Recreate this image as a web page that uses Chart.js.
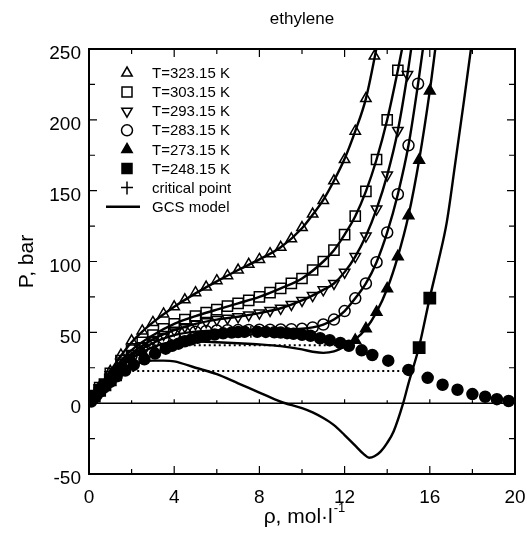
<!DOCTYPE html>
<html>
<head>
<meta charset="utf-8">
<script src="https://cdn.jsdelivr.net/npm/chart.js@4.4.0/dist/chart.umd.min.js"></script>
<style>
  html, body { margin: 0; padding: 0; background: #fff; }
  .chart-container { width: 527px; height: 542px; }
</style>
</head>
<body>
<div class="chart-container"><canvas id="myChart" width="527" height="542"></canvas></div>
<script>
// ----------------------------------------------------------
// experimental points (rho in mol/l, P in bar)
const rho323 = [0.5, 1, 1.5, 2, 2.5, 3, 3.5, 4, 4.5, 5, 5.5, 6, 6.5, 7, 7.5, 8, 8.5, 9, 9.5, 10, 10.5, 11, 11.5, 12, 12.5, 13, 13.4];
const p323 = [11.5, 22.5, 34, 44, 51, 57, 63, 68, 73, 78, 82, 86.5, 90, 94, 98, 101.5, 105.5, 110, 116, 124, 133.5, 143, 157, 172, 192, 215, 245];

const rho303 = [0.5, 1, 1.5, 2, 2.5, 3, 3.5, 4, 4.5, 5, 5.5, 6, 6.5, 7, 7.5, 8, 8.5, 9, 9.5, 10, 10.5, 11, 11.5, 12, 12.5, 13, 13.5, 14, 14.5];
const p303 = [11, 21, 30, 37.5, 43, 48, 52.5, 56, 59, 61.5, 64, 66, 68.5, 70.5, 72.5, 75, 78, 81, 84.5, 88, 94, 100, 108, 119, 132, 149.5, 172, 200, 235];

const rho293 = [0.5, 1, 1.5, 2, 2.5, 3, 3.5, 4, 4.5, 5, 5.5, 6, 6.5, 7, 7.5, 8, 8.5, 9, 9.5, 10, 10.5, 11, 11.5, 12, 12.5, 13, 13.5, 14, 14.5, 14.95];
const p293 = [10.5, 20, 28.5, 35, 40.5, 45, 48.5, 51.5, 54, 56, 57.5, 59, 60, 61, 62.3, 63.6, 65.5, 67, 69.7, 72.5, 76, 80, 84.5, 92.5, 103.5, 118, 137, 161, 192.5, 232];

const rho283 = [0.5, 1, 1.5, 2, 2.5, 3, 3.5, 4, 4.5, 5, 5.5, 6, 6.5, 7, 7.5, 8, 8.5, 9, 9.5, 10, 10.5, 11, 11.5, 12, 12.5, 13, 13.5, 14, 14.5, 15, 15.45];
const p283 = [10, 19, 27, 33.5, 38.5, 42.5, 45.5, 48, 49.5, 50.5, 51, 51.3, 51.5, 51.6, 51.7, 51.8, 51.9, 52, 52.2, 52.5, 53.5, 55.5, 59, 65, 74, 84.5, 99.5, 120.5, 147.5, 182, 225.5];

const rho273 = [0.5, 1, 1.5, 2, 2.5, 12.5, 13, 13.5, 14, 14.5, 15, 15.5, 16];
const p273 = [9.5, 18, 25, 31, 36, 44.4, 52.6, 64.3, 80.8, 103.5, 132.4, 171.6, 220.4];

const rho248 = [0.25, 0.5, 0.75, 1, 1.25, 15.5, 16];
const p248 = [5, 9, 13, 16.5, 20, 39.2, 74.2];

// saturation curve (vapour + liquid branch)
const rhoSat = [0.1, 0.2, 0.35, 0.5, 0.7, 1.0, 1.3, 1.7, 2.1, 2.6, 3.1, 3.6, 3.9, 4.2, 4.5, 4.8, 5.1, 5.5, 5.9, 6.3, 6.7, 7.0, 7.3,
  7.9, 8.3, 8.7, 9.0, 9.3, 9.6, 10.0, 10.4, 10.85, 11.3, 11.8, 12.2, 12.8, 13.3, 14.05, 15.0, 15.9, 16.6, 17.3, 18.0, 18.6, 19.15, 19.7];
const pSat = [1.2, 3, 5.5, 8, 11, 15, 19, 23, 27, 31, 35, 38.5, 40.5, 42, 43.7, 45, 46.2, 47.5, 48.5, 49.3, 49.8, 50.2, 50.4,
  50.4, 50.3, 50, 49.8, 49.4, 49, 48.3, 47.6, 45.8, 44.4, 42.5, 40.5, 37.3, 34, 30, 23.5, 17.9, 13, 9.5, 6.4, 4.5, 2.8, 1.5];

const rhoCrit = [7.6];
const pCrit = [50.4];

// ----------------------------------------------------------
// GCS model curves
const rhoL323 = [0, 0.5, 1, 1.5, 2, 2.5, 3, 4, 5, 6, 7, 8, 9, 10, 10.5, 11, 11.5, 12, 12.5, 13, 13.5, 13.7];
const pL323 = [0, 11.5, 22.5, 33.5, 43, 50.5, 57, 68, 77.5, 86, 94, 101.5, 110, 123.5, 133, 143.5, 157, 172.5, 192, 215, 251, 268];

const rhoL303 = [0, 1, 2, 3, 4, 5, 6, 7, 8, 9, 10, 11, 11.5, 12, 12.5, 13, 13.5, 14, 14.5, 14.8];
const pL303 = [0, 21, 37.5, 48, 56, 61.5, 66, 70.5, 75, 81, 88, 100, 108, 119, 132, 149.5, 172, 200, 235, 258];

const rhoL293 = [0, 1, 2, 3, 4, 5, 6, 7, 8, 9, 10, 11, 11.5, 12, 12.5, 13, 13.5, 14, 14.5, 14.95, 15.2];
const pL293 = [0, 20, 35, 45, 51.5, 56, 59, 61, 63.6, 67, 72.5, 80, 84.5, 92.5, 103.5, 118, 137, 161, 192.5, 232, 258];

const rhoL283 = [0, 1, 2, 3, 4, 5, 6, 7, 8, 9, 10, 10.5, 11, 11.5, 12, 12.5, 13, 13.5, 14, 14.5, 15, 15.45, 15.75];
const pL283 = [0, 19, 33.5, 42.5, 48, 50.5, 51.3, 51.6, 51.8, 52, 52.5, 53.5, 55.5, 59, 65, 74, 84.5, 99.5, 120.5, 147.5, 182, 225.5, 258];

const rhoL273 = [0, 0.5, 1, 1.5, 2, 2.5, 3, 3.5, 4, 5, 6, 7, 8, 9, 10, 10.5, 11, 11.5, 12, 12.5, 13, 13.5, 14, 14.5, 15, 15.5, 16, 16.3];
const pL273 = [0, 9.5, 18, 25.5, 31.5, 36, 39.5, 42, 43.3, 43.5, 43, 42.3, 41.5, 40.3, 38, 36.3, 35.5, 36.5, 40, 45, 52.6, 64.3, 80.8, 103.5, 132.4, 171.6, 220.4, 255];

const rhoL248 = [0, 0.5, 1, 1.5, 2, 2.5, 3, 3.5, 4, 5, 6, 7, 8, 9, 10, 10.5, 11, 11.5, 12, 12.5, 12.9, 13.15, 13.4, 13.7, 14, 14.3, 14.75, 15, 15.5, 16, 16.4, 16.8, 17.2, 17.6, 17.95, 18.1];
const pL248 = [0, 9, 16.5, 23, 27, 29, 30, 30, 29.5, 25, 20.5, 14, 7.5, 1, -3.5, -6.5, -10.5, -15.5, -22.5, -30, -36, -38.5, -37.5, -34, -28, -20, 0, 14, 40, 74.5, 100, 128, 170, 213, 252, 268];

// dotted tie lines
const rhoTie1 = [2.1, 11.9];
const pTie1 = [40.8, 40.8];
const rhoTie2 = [2.03, 14.85];
const pTie2 = [22.7, 22.7];

// axis ticks
const xTicks = [0, 4, 8, 12, 16, 20];
const yTicks = [-50, 0, 50, 100, 150, 200, 250];

// legend entries
const legendLabels = ["T=323.15 K", "T=303.15 K", "T=293.15 K", "T=283.15 K", "T=273.15 K", "T=248.15 K", "critical point", "GCS model"];

// ----------------------------------------------------------
function toPoints(xs, ys) {
  return xs.map((x, i) => ({ x: x, y: ys[i] }));
}

function markerSet(xs, ys, style, radius, filled, rotation) {
  return {
    data: toPoints(xs, ys),
    showLine: false,
    pointStyle: style,
    pointRadius: radius,
    pointRotation: rotation || 0,
    pointBorderColor: "#000",
    pointBorderWidth: 1.5,
    pointBackgroundColor: filled ? "#000" : "rgba(0,0,0,0)",
  };
}

function modelLine(xs, ys) {
  return {
    data: toPoints(xs, ys),
    showLine: true,
    borderColor: "#000",
    borderWidth: 2.4,
    pointRadius: 0,
    tension: 0.4,
    cubicInterpolationMode: "monotone",
  };
}

function tieLine(xs, ys) {
  return {
    data: toPoints(xs, ys),
    showLine: true,
    borderColor: "#000",
    borderWidth: 2,
    borderDash: [2, 3],
    pointRadius: 0,
  };
}

// ----------------------------------------------------------
// draw a marker for the legend
function drawMarker(ctx, kind, x, y) {
  ctx.beginPath();
  if (kind === "triUp" || kind === "triFill") {
    ctx.moveTo(x, y - 6);
    ctx.lineTo(x + 5.2, y + 3);
    ctx.lineTo(x - 5.2, y + 3);
    ctx.closePath();
  } else if (kind === "triDown") {
    ctx.moveTo(x, y + 6);
    ctx.lineTo(x + 5.2, y - 3);
    ctx.lineTo(x - 5.2, y - 3);
    ctx.closePath();
  } else if (kind === "square" || kind === "squareFill") {
    ctx.rect(x - 5, y - 5, 10, 10);
  } else if (kind === "circle") {
    ctx.arc(x, y, 5.5, 0, Math.PI * 2);
  } else if (kind === "cross") {
    ctx.moveTo(x - 6, y);
    ctx.lineTo(x + 6, y);
    ctx.moveTo(x, y - 6);
    ctx.lineTo(x, y + 7);
  } else if (kind === "line") {
    ctx.moveTo(x - 21, y);
    ctx.lineTo(x + 13, y);
  }
  if (kind === "triFill" || kind === "squareFill") {
    ctx.fill();
  }
  ctx.lineWidth = kind === "line" ? 2.6 : 1.5;
  ctx.stroke();
}

// ----------------------------------------------------------
// frame, inward ticks, zero line, legend and texts
const decorPlugin = {
  id: "decor",
  afterDatasetsDraw(chart) {
    const ctx = chart.ctx;
    const a = chart.chartArea;
    const xs = chart.scales.x;
    const ys = chart.scales.y;
    ctx.save();
    ctx.strokeStyle = "#000";
    ctx.fillStyle = "#000";
    ctx.lineWidth = 2;
    ctx.strokeRect(a.left, a.top, a.right - a.left, a.bottom - a.top);

    const y0 = ys.getPixelForValue(0);
    ctx.lineWidth = 1.5;
    ctx.beginPath();
    ctx.moveTo(a.left, y0);
    ctx.lineTo(a.right, y0);
    ctx.stroke();

    ctx.lineWidth = 1.2;
    ctx.beginPath();
    for (let v = 0; v <= 20; v += 2) {
      const px = xs.getPixelForValue(v);
      const len = v % 4 === 0 ? 8 : 5;
      ctx.moveTo(px, a.bottom);
      ctx.lineTo(px, a.bottom - len);
      ctx.moveTo(px, a.top);
      ctx.lineTo(px, a.top + len);
      ctx.moveTo(px, y0);
      ctx.lineTo(px, y0 - (v % 4 === 0 ? 4 : 3));
    }
    for (let v = -50; v <= 250; v += 25) {
      const py = ys.getPixelForValue(v);
      const len = v % 50 === 0 ? 8 : 6;
      ctx.moveTo(a.left, py);
      ctx.lineTo(a.left + len, py);
      ctx.moveTo(a.right, py);
      ctx.lineTo(a.right - len, py);
    }
    ctx.stroke();

    // legend
    const kinds = ["triUp", "square", "triDown", "circle", "triFill", "squareFill", "cross", "line"];
    ctx.font = "15px 'Liberation Sans', Arial, sans-serif";
    ctx.textBaseline = "middle";
    ctx.textAlign = "left";
    legendLabels.forEach((label, i) => {
      const ly = 73 + i * 19.1;
      drawMarker(ctx, kinds[i], 127, ly);
      ctx.fillText(label, 152, ly + 1);
    });

    // title
    const cx = (a.left + a.right) / 2;
    ctx.textAlign = "center";
    ctx.font = "17px 'Liberation Sans', Arial, sans-serif";
    ctx.fillText("ethylene", cx, 19);

    // x title with superscript
    ctx.font = "21px 'Liberation Sans', Arial, sans-serif";
    const main = "\u03c1, mol\u00b7l";
    const w1 = ctx.measureText(main).width;
    ctx.font = "13px 'Liberation Sans', Arial, sans-serif";
    const w2 = ctx.measureText("-1").width;
    const startX = cx + 2 - (w1 + w2) / 2;
    ctx.textAlign = "left";
    ctx.font = "21px 'Liberation Sans', Arial, sans-serif";
    ctx.fillText(main, startX, 517);
    ctx.font = "13px 'Liberation Sans', Arial, sans-serif";
    ctx.fillText("-1", startX + w1 + 1, 508);

    // y title
    ctx.translate(27, (a.top + a.bottom) / 2);
    ctx.rotate(-Math.PI / 2);
    ctx.textAlign = "center";
    ctx.font = "21px 'Liberation Sans', Arial, sans-serif";
    ctx.fillText("P, bar", 0, 0);
    ctx.restore();
  },
};

// ----------------------------------------------------------
const datasets = [
  markerSet(rho323, p323, "triangle", 6, false),
  markerSet(rho303, p303, "rect", 7.2, false),
  markerSet(rho293, p293, "triangle", 6, false, 180),
  markerSet(rho283, p283, "circle", 5.5, false),
  markerSet(rho273, p273, "triangle", 6.2, true),
  markerSet(rho248, p248, "rect", 8, true),
  markerSet(rhoSat, pSat, "circle", 5.5, true),
  markerSet(rhoCrit, pCrit, "cross", 6, false),
  modelLine(rhoL323, pL323),
  modelLine(rhoL303, pL303),
  modelLine(rhoL293, pL293),
  modelLine(rhoL283, pL283),
  modelLine(rhoL273, pL273),
  modelLine(rhoL248, pL248),
  tieLine(rhoTie1, pTie1),
  tieLine(rhoTie2, pTie2),
];

const tickFont = { family: "'Liberation Sans', Arial, sans-serif", size: 19 };

new Chart(document.getElementById("myChart"), {
  type: "scatter",
  data: { datasets: datasets },
  options: {
    responsive: false,
    animation: false,
    devicePixelRatio: 1,
    layout: { padding: { left: 0, top: 49, right: 12, bottom: 0 } },
    plugins: { legend: { display: false }, tooltip: { enabled: false } },
    scales: {
      x: {
        type: "linear",
        min: 0,
        max: 20,
        afterFit(scale) {
          scale.height = 68;
          scale.paddingLeft = 0;
          scale.paddingRight = 0;
        },
        afterBuildTicks(scale) { scale.ticks = xTicks.map((v) => ({ value: v })); },
        grid: { display: false, drawTicks: false },
        border: { display: false },
        ticks: { color: "#000", font: tickFont, padding: 12, maxRotation: 0 },
      },
      y: {
        type: "linear",
        min: -50,
        max: 250,
        afterFit(scale) {
          scale.width = 89;
          scale.paddingTop = 0;
          scale.paddingBottom = 0;
        },
        afterBuildTicks(scale) { scale.ticks = yTicks.map((v) => ({ value: v })); },
        grid: { display: false, drawTicks: false },
        border: { display: false },
        ticks: { color: "#000", font: tickFont, padding: 8, labelOffset: 5 },
      },
    },
  },
  plugins: [decorPlugin],
});
</script>
</body>
</html>
